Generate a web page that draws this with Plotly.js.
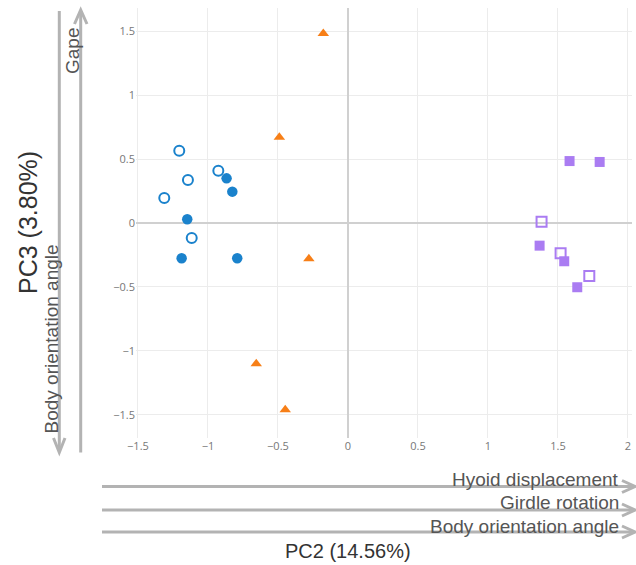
<!DOCTYPE html>
<html><head>
<script src="https://cdn.plot.ly/plotly-3.0.1.min.js"></script>
<style>body{margin:0;background:#fff}</style>
</head><body>
<div id="chart" style="width:636px;height:565px"></div>
<script>
// Data (PC2, PC3 scores)
const blueOpenX = [-1.205, -1.143, -1.312, -0.926, -1.116];
const blueOpenY = [0.565, 0.336, 0.195, 0.409, -0.117];
const blueFilledX = [-0.867, -0.826, -1.148, -1.188, -0.791];
const blueFilledY = [0.349, 0.245, 0.029, -0.276, -0.276];
const orangeX = [-0.176, -0.49, -0.279, -0.655, -0.448];
const orangeY = [1.48, 0.67, -0.28, -1.10, -1.46];
const purpleFilledX = [1.583, 1.798, 1.369, 1.545, 1.638];
const purpleFilledY = [0.484, 0.477, -0.177, -0.299, -0.502];
const purpleOpenX = [1.383, 1.519, 1.724];
const purpleOpenY = [0.010, -0.237, -0.414];

const xTitle = 'PC2 (14.56%)';
const yTitle = 'PC3 (3.80%)';
const xArrowLabels = ['Hyoid displacement', 'Girdle rotation', 'Body orientation angle'];
const yUpLabel = 'Gape';
const yDownLabel = 'Body orientation angle';

const blue = '#1a82cc', orange = '#f77f17', purple = '#aa7cf2';

const traces = [
  {x: blueOpenX, y: blueOpenY, mode: 'markers', type: 'scatter',
   marker: {symbol: 'circle-open', size: 10, color: blue, line: {width: 2, color: blue}}},
  {x: blueFilledX, y: blueFilledY, mode: 'markers', type: 'scatter',
   marker: {symbol: 'circle', size: 10.5, color: blue}},
  {x: orangeX, y: orangeY, mode: 'markers', type: 'scatter',
   marker: {symbol: 'triangle-up', size: 10, color: orange}},
  {x: purpleFilledX, y: purpleFilledY, mode: 'markers', type: 'scatter',
   marker: {symbol: 'square', size: 10, color: purple}},
  {x: purpleOpenX, y: purpleOpenY, mode: 'markers', type: 'scatter',
   marker: {symbol: 'square-open', size: 10, color: purple, line: {width: 2, color: purple}}}
];

const W = 636, H = 565, L = 136, R = 4, T = 8, B = 127;
const PW = W - L - R, PH = H - T - B;
const px = x => (x - L) / PW;
const py = y => (T + PH - y) / PH;
const ac = '#b3b3b3';
function seg(x0, y0, x1, y1) {
  return {type: 'line', xref: 'paper', yref: 'paper', x0: px(x0), y0: py(y0), x1: px(x1), y1: py(y1),
          line: {color: ac, width: 3}};
}
function chev(pts) {
  return {type: 'path', xref: 'paper', yref: 'paper',
          path: 'M' + pts.map(p => px(p[0]) + ',' + py(p[1])).join('L'),
          line: {color: ac, width: 3}};
}
const hy = [486.5, 510, 532];
const shapes = [
  seg(80.7, 452.5, 80.7, 11), chev([[74.5, 24], [80.7, 10], [87, 24]]),
  seg(59.3, 11, 59.3, 451), chev([[53.5, 438], [59.3, 452.5], [65, 438]])
];
hy.forEach(y => { shapes.push(seg(102, y, 634, y)); shapes.push(chev([[622, y - 6], [635, y], [622, y + 6]])); });

const tf = {family: 'Liberation Sans, Arial, sans-serif', size: 19, color: '#555'};
function ann(text, x, y, angle, font, xanchor) {
  return {text: text, xref: 'paper', yref: 'paper', x: px(x), y: py(y), showarrow: false,
          textangle: angle, font: font, xanchor: xanchor || 'center', yanchor: 'middle'};
}
const annotations = [
  ann(yUpLabel, 72.5, 51.5, -90, tf),
  ann(yDownLabel, 50.5, 339, -90, tf),
  ann(yTitle, 28, 223, -90, {family: 'Liberation Sans, Arial, sans-serif', size: 25, color: '#333'}),
  ann(xTitle, 348, 551, 0, {family: 'Liberation Sans, Arial, sans-serif', size: 20, color: '#333'})
];
const labelY = [479, 502, 526];
xArrowLabels.forEach((t, i) => annotations.push(ann(t, 621, labelY[i], 0, tf, 'right')));

const layout = {
  width: W, height: H,
  margin: {l: L, r: R, t: T, b: B},
  showlegend: false,
  paper_bgcolor: '#fff', plot_bgcolor: '#fff',
  xaxis: {range: [-1.514, 2.029], dtick: 0.5, tick0: 0, showgrid: true, gridcolor: '#ececec',
          zeroline: true, zerolinecolor: '#d0d0d0', zerolinewidth: 1.5, showline: false,
          tickfont: {family: 'Open Sans, sans-serif', size: 11, color: '#777'}},
  yaxis: {range: [-1.68, 1.68], dtick: 0.5, tick0: 0, showgrid: true, gridcolor: '#ececec',
          zeroline: true, zerolinecolor: '#d0d0d0', zerolinewidth: 1.5, showline: false,
          tickfont: {family: 'Open Sans, sans-serif', size: 11, color: '#777'}},
  shapes: shapes,
  annotations: annotations
};
Plotly.newPlot('chart', traces, layout, {displayModeBar: false, staticPlot: true});
</script>
</body></html>
